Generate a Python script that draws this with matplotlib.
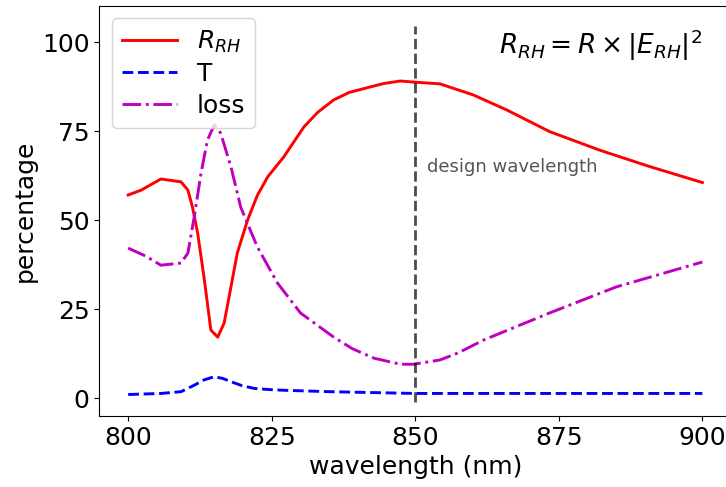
import matplotlib
matplotlib.use('Agg')
import matplotlib.pyplot as plt

# reflectance R_RH (%)
r_wl = [800, 802.3, 805.7, 809.2, 810.4, 811.2, 812.1, 813.2, 814.4, 815.6,
        816.7, 817.9, 819.0, 820.8, 822.5, 824.3, 827.1, 830.6, 833.0, 835.8,
        838.5, 841.6, 844.5, 847.4, 849.7, 854.3, 860.1, 865.9, 873.4, 882.1,
        890.8, 900]
r_val = [57.1, 58.5, 61.6, 60.8, 58.5, 53.7, 46.4, 34.1, 19.2, 17.2,
         21.1, 31.3, 40.8, 50.1, 57.0, 62.2, 67.8, 76.2, 80.3, 83.8,
         85.9, 87.2, 88.4, 89.1, 88.8, 88.3, 85.2, 81.0, 74.9, 69.7,
         65.1, 60.6]

# transmission T (%)
t_wl = [800, 805.7, 809.2, 811.5, 813.2, 815.0, 816.5, 817.9, 819.8, 822.0,
        824.5, 827.0, 835.0, 850, 900]
t_val = [1.1, 1.4, 1.9, 3.7, 5.2, 6.1, 5.6, 4.7, 3.6, 2.8,
         2.5, 2.3, 1.9, 1.4, 1.4]

# loss (%)
l_wl = [800, 803.0, 805.7, 809.2, 810.4, 811.5, 812.7, 813.8, 815.0, 816.1,
        817.9, 819.6, 822.5, 826.0, 830.0, 835.8, 839.0, 842.8, 847.4, 849.7,
        854.3, 857.5, 861.9, 873.4, 885.0, 900]
l_val = [42.2, 40.0, 37.4, 38.0, 40.8, 50.9, 63.3, 72.5, 76.8, 74.5,
         65.0, 53.7, 42.5, 32.4, 24.0, 17.2, 14.0, 11.3, 9.6, 9.6,
         10.8, 12.8, 16.4, 24.0, 31.3, 38.3]

design_wl = 850

fig = plt.figure(figsize=(7.26, 4.87), dpi=100)
ax = fig.add_axes([0.137, 0.146, 0.870, 0.842])

ax.plot(r_wl, r_val, '-r', lw=2.1, label='$R_{RH}$')
ax.plot(t_wl, t_val, '--b', lw=2.1, label='T')
ax.plot(l_wl, l_val, '-.m', lw=2.1, label='loss')
ax.plot([design_wl, design_wl], [-1, 104.5], '--k', lw=2, alpha=0.7)

ax.text(852, 65, 'design wavelength', fontsize=13, color='#555555',
        va='center', ha='left')
ax.text(900, 99, r'$R_{RH} = R \times |E_{RH}|^2$', fontsize=19,
        va='center', ha='right')

ax.set_xlim(795, 905)
ax.set_ylim(-4.9, 110.2)
ax.set_xticks([800, 825, 850, 875, 900])
ax.set_yticks([0, 25, 50, 75, 100])
ax.tick_params(labelsize=18)
ax.set_xlabel('wavelength (nm)', fontsize=18)
ax.set_ylabel('percentage', fontsize=18)
ax.legend(loc='upper left', fontsize=18, handlelength=2.2,
          borderaxespad=0.5, labelspacing=0.3)

fig.savefig('out.png', dpi=100)
